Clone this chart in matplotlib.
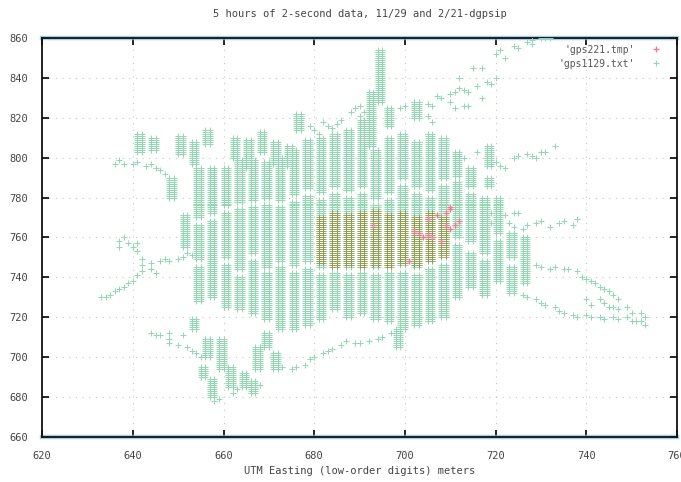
import numpy as np
import matplotlib.pyplot as plt

# gps1129.txt: vertical runs of fixes, (easting, northing_lo, northing_hi),
# each run logged at easting and easting+1
green_runs = [
    (641, 803, 812), (644, 804, 810), (650, 802, 811), (653, 797, 808),
    (656, 807, 814), (662, 800, 810), (665, 795, 809), (668, 803, 813),
    (671, 797, 808), (674, 796, 806), (676, 814, 822), (648, 780, 790),
    (651, 755, 771), (654, 770, 795), (654, 749, 766), (654, 728, 745),
    (657, 772, 795), (657, 730, 768), (660, 776, 795), (660, 750, 772),
    (660, 725, 746), (663, 778, 799), (663, 744, 774), (663, 724, 740),
    (666, 779, 799), (666, 752, 775), (666, 722, 748), (669, 780, 798),
    (669, 745, 776), (669, 719, 742), (672, 779, 800), (672, 748, 775),
    (672, 714, 745), (675, 782, 804), (675, 746, 778), (675, 714, 742),
    (678, 785, 809), (678, 748, 781), (678, 716, 744), (681, 783, 810),
    (681, 745, 779), (681, 719, 741), (684, 786, 812), (684, 746, 782),
    (684, 724, 742), (687, 784, 814), (687, 745, 780), (687, 720, 741),
    (690, 786, 819), (690, 746, 782), (690, 722, 742), (694, 828, 854),
    (692, 806, 833), (693, 780, 804), (693, 745, 776), (693, 719, 741),
    (696, 816, 825), (696, 783, 810), (696, 746, 779), (696, 718, 742),
    (699, 790, 812), (699, 746, 786), (699, 714, 742), (702, 820, 828),
    (702, 786, 808), (702, 745, 782), (702, 716, 741), (705, 784, 812),
    (705, 748, 780), (705, 718, 744), (708, 790, 810), (708, 752, 786),
    (708, 720, 746), (711, 791, 803), (711, 760, 788), (711, 730, 756),
    (714, 786, 795), (714, 758, 782), (714, 735, 752), (718, 796, 806),
    (718, 786, 790), (717, 752, 780), (717, 731, 748), (720, 762, 780),
    (720, 738, 758), (723, 750, 762), (723, 732, 745), (726, 749, 760),
    (726, 737, 749), (655, 690, 695), (656, 700, 709), (659, 694, 709),
    (661, 685, 695), (657, 680, 689), (664, 685, 692), (666, 682, 688),
    (667, 694, 705), (671, 694, 702), (653, 714, 719), (669, 705, 712),
    (698, 705, 714),
]

# gps1129.txt: isolated fixes along the trails
green_x = [
    637, 637, 638, 639, 640, 641, 641, 642, 642, 642, 641, 640, 639, 638, 637, 636, 635, 634, 633,
    644, 644, 645, 646, 647, 648, 650, 651, 652, 653,
    636, 637, 638, 640, 641, 643, 644, 645, 646, 647,
    644, 645, 646, 648, 648, 648, 650, 651, 652, 653, 654, 655,
    658, 659, 662, 663, 665, 668,
    672, 673, 675, 676, 678, 679, 680, 682, 683, 684, 686, 687, 689, 690, 692, 694, 695, 697,
    677, 679, 680, 681, 682, 683, 684, 685, 686, 688, 689, 690, 691, 690,
    699, 700, 702, 705, 706, 707, 708, 710, 711, 712, 713, 714, 712, 715, 717, 718, 720, 719,
    720, 721, 722, 724, 725, 727, 728, 728, 730, 731, 732,
    705, 706, 710, 711, 713, 714, 716, 717,
    709, 711, 713, 716, 719, 720, 721, 722, 724, 725, 727, 728, 729, 730, 731, 733,
    718, 719, 720, 722, 724, 725, 719, 720, 723, 724, 726, 727, 729, 730, 732, 734, 735, 737, 738,
    729, 730, 732, 733, 735, 736, 738, 739, 740, 741, 742, 743, 744, 745, 746, 747,
    726, 727, 729, 730, 731, 733, 734, 735, 737, 738, 740, 741, 740, 741, 743, 744, 745,
    743, 744, 746, 747, 746, 747, 749, 750, 749, 750, 751, 752, 753, 752, 753,
]
green_y = [
    758, 755, 760, 757, 755, 757, 753, 749, 746, 743, 741, 738, 737, 735, 734, 733, 731, 730, 730,
    747, 744, 742, 748, 749, 748, 749, 750, 752, 751,
    797, 799, 797, 797, 798, 796, 797, 795, 794, 792,
    712, 711, 711, 712, 709, 707, 706, 711, 705, 703, 702, 700,
    678, 679, 682, 684, 690, 686,
    694, 695, 694, 695, 696, 699, 700, 702, 703, 704, 706, 708, 707, 707, 708, 709, 710, 712,
    820, 816, 814, 812, 818, 816, 815, 817, 819, 823, 825, 826, 823, 821,
    825, 826, 828, 827, 826, 831, 830, 832, 833, 835, 834, 833, 840, 845, 845, 838, 840, 837,
    852, 854, 850, 856, 855, 858, 857, 859, 860, 860, 860,
    821, 818, 828, 825, 826, 826, 836, 830,
    799, 801, 800, 803, 797, 798, 796, 795, 800, 801, 802, 801, 800, 803, 803, 806,
    774, 772, 770, 771, 772, 772, 767, 766, 767, 765, 764, 766, 767, 768, 765, 767, 768, 766, 769,
    746, 745, 744, 745, 744, 744, 743, 740, 739, 738, 737, 735, 734, 733, 731, 729,
    731, 730, 729, 727, 726, 725, 723, 722, 721, 720, 721, 720, 729, 726, 729, 727, 725,
    720, 719, 725, 724, 720, 719, 725, 722, 720, 718, 718, 722, 720, 718, 716,
]

# gps221.tmp: dense block of runs and scattered fixes
block_runs = [
    (681, 747, 770), (684, 745, 772), (687, 746, 771), (690, 745, 772),
    (693, 746, 773), (696, 745, 771), (699, 747, 772), (702, 746, 770),
    (705, 748, 772), (708, 750, 770),
]
pink_x = [705, 710, 704, 705, 706, 710, 711, 701, 707, 703, 708, 712, 709, 710, 693, 709, 702]
pink_y = [769, 774, 760, 761, 760, 764, 766, 748, 771, 762, 758, 768, 772, 775, 766, 766, 763]


def expand(runs):
    xs, ys = [], []
    for e, lo, hi in runs:
        for n in range(lo, hi + 1):
            xs += [e, e + 1]
            ys += [n, n]
    return xs, ys


gx, gy = expand(green_runs)
gx += green_x
gy += green_y
bx, by = expand(block_runs)

fig = plt.figure(figsize=(6.81, 4.82), dpi=100)
ax = fig.add_axes([0.062, 0.094, 0.932, 0.827])

mono = 'DejaVu Sans Mono'
green = '#8fd9b0'
pink = '#f27a94'

ax.plot(gx, gy, ls='none', marker='+', ms=4.2, mew=0.7, color=green, zorder=3)
ax.plot(bx, by, ls='none', marker='+', ms=4.2, mew=0.7, color='#8f9c48', alpha=0.8, zorder=4)
ax.plot(pink_x, pink_y, ls='none', marker='+', ms=4.5, mew=1.0, color=pink, zorder=5)

# legend entries
ax.plot([], [], ls='none', marker='+', ms=4.5, mew=1.0, color=pink, label="'gps221.tmp'")
ax.plot([], [], ls='none', marker='+', ms=4.5, mew=0.8, color=green, label="'gps1129.txt'")
leg = ax.legend(loc='upper right', frameon=False, markerfirst=False,
                prop={'family': mono, 'size': 7}, handlelength=1.0,
                handletextpad=1.6, borderaxespad=0.3, labelspacing=0.4,
                bbox_to_anchor=(0.985, 1.0))
for t in leg.get_texts():
    t.set_color('#555555')

ax.set_xlim(620, 760)
ax.set_ylim(660, 860)
ax.set_xticks(np.arange(620, 761, 20))
ax.set_yticks(np.arange(660, 861, 20))
ax.tick_params(direction='in', length=5, width=1.2, top=True, right=True,
               labelsize=7.5, labelcolor='#444444', colors='black', pad=10)
for lab in ax.get_xticklabels() + ax.get_yticklabels():
    lab.set_family(mono)
ax.grid(True, color='#c4c4c4', lw=0.8, ls=(0, (1, 5)))
ax.set_axisbelow(True)

for s in ax.spines.values():
    s.set_linewidth(1.3)
    s.set_color('#111111')
for yy in (0, 1):
    ax.plot([0, 1], [yy, yy], transform=ax.transAxes, color='#7fb8d8',
            lw=3.2, alpha=0.7, clip_on=False, zorder=1)

ax.set_title('5 hours of 2-second data, 11/29 and 2/21-dgpsip',
             family=mono, fontsize=7.5, color='#444444', pad=15)
ax.set_xlabel('UTM Easting (low-order digits) meters', family=mono,
              fontsize=7.5, color='#444444', labelpad=4)

fig.savefig('out.png', dpi=100)
